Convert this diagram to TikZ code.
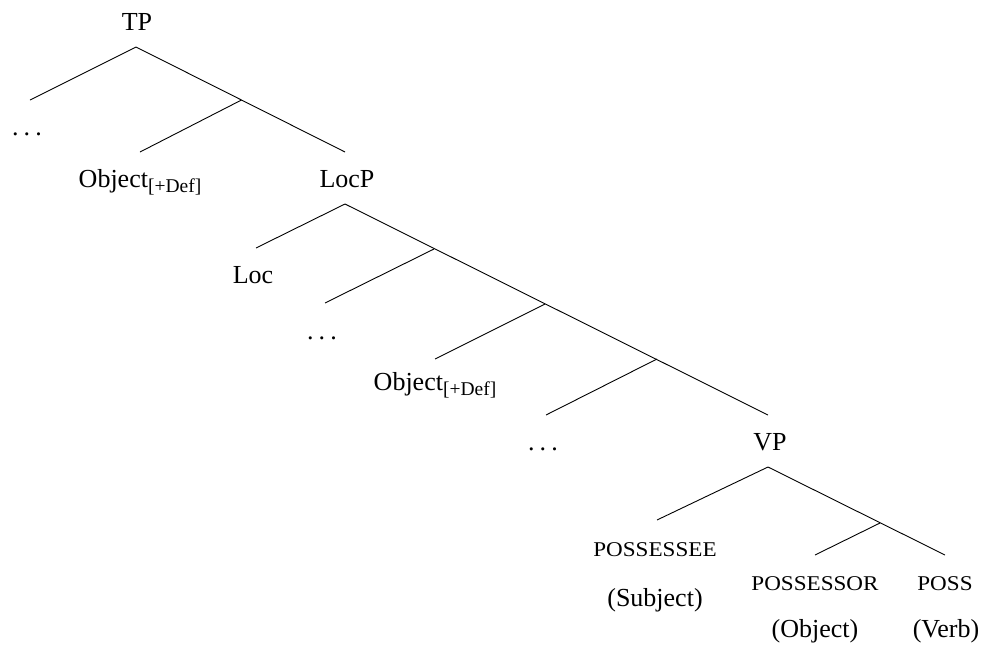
\documentclass[tikz,border=0pt]{standalone}
\usepackage{fontspec}
\setmainfont{Liberation Serif}
\usepackage{graphicx}
\newcommand{\smc}[1]{\scalebox{1.1}[1]{\fontsize{21}{25}\selectfont #1}}
\newcommand{\sub}[1]{\raisebox{-5.5pt}{\fontsize{19.5}{23}\selectfont #1}}
\newcommand{\ddd}{.\kern0.2em.\kern0.2em.}
\begin{document}
\begin{tikzpicture}[x=1pt,y=-1pt,
  lbl/.style={anchor=base,inner sep=0pt,font=\fontsize{26}{31}\selectfont},
  br/.style={line width=0.9pt}]
\useasboundingbox (0,0) rectangle (985,646);
% labels
\node[lbl] (tp) at (137,30) {TP};
\node[lbl] (d1) at (27,135) {\ddd};
\node[lbl] (ob1) at (140,187) {Object\sub{[+Def]}};
\node[lbl] (locp) at (347,187) {LocP};
\node[lbl] (loc) at (253,283) {Loc};
\node[lbl] (d2) at (322,339) {\ddd};
\node[lbl] (ob2) at (435,390) {Object\sub{[+Def]}};
\node[lbl] (d3) at (543,450) {\ddd};
\node[lbl] (vp) at (770,450) {VP};
\node[lbl] (pee) at (655,556) {\smc{POSSESSEE}};
\node[lbl] (subj) at (655,606) {(Subject)};
\node[lbl] (por) at (815,590) {\smc{POSSESSOR}};
\node[lbl] (obj) at (815,637) {(Object)};
\node[lbl] (poss) at (945,590) {\smc{POSS}};
\node[lbl] (verb) at (946,637) {(Verb)};
% branch points
\coordinate (tpA) at (136,47);
\coordinate (tpL) at (30,100);
\coordinate (j0) at (241.5,100);
\coordinate (ob1T) at (140,152);
\coordinate (locpT) at (345,152);
\coordinate (locpA) at (345,204);
\coordinate (locT) at (256,248);
\coordinate (j1) at (434,249);
\coordinate (d2T) at (325,303);
\coordinate (j2) at (545,304);
\coordinate (ob2T) at (435,359);
\coordinate (j3) at (657,359);
\coordinate (d3T) at (546,415);
\coordinate (vpT) at (768,415);
\coordinate (vpA) at (768,467);
\coordinate (peeT) at (657,520);
\coordinate (j4) at (880,523);
\coordinate (porT) at (815,555);
\coordinate (possT) at (945,555);
% branches
\draw[br] (tpL) -- (tpA) -- (locpT);
\draw[br] (j0) -- (ob1T);
\draw[br] (locT) -- (locpA) -- (vpT);
\draw[br] (j1) -- (d2T);
\draw[br] (j2) -- (ob2T);
\draw[br] (j3) -- (d3T);
\draw[br] (peeT) -- (vpA) -- (possT);
\draw[br] (j4) -- (porT);
\end{tikzpicture}
\end{document}
